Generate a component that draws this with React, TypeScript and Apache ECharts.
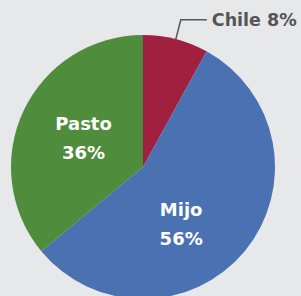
import React, { useEffect, useRef } from "react";
import * as echarts from "echarts";

const categories = ["Chile", "Mijo", "Pasto"];
const values = [8, 56, 36];
const colors = ["#a0213f", "#4a71b2", "#4f8c3b"];

export default function App() {
  const ref = useRef<HTMLDivElement>(null);
  useEffect(() => {
    document.body.style.margin = "0";
    const chart = echarts.init(ref.current!, null, { renderer: "svg" });
    const data = categories.map((name, i) => ({
      name,
      value: values[i],
      itemStyle: { color: colors[i] },
      label:
        i === 0
          ? {
              position: "outside",
              color: "#555555",
              formatter: "{b} {c}%",
              fontSize: 17.5,
              lineHeight: 20,
              overflow: "none",
              width: 120,
            }
          : { position: "inside", color: "#ffffff" },
      labelLine: { show: i === 0 },
    }));
    chart.setOption({
      animation: false,
      backgroundColor: "#e7e8ea",
      series: [
        {
          type: "pie",
          center: [143, 167],
          radius: 132,
          startAngle: 90,
          clockwise: true,
          data,
          label: {
            show: true,
            position: "inside",
            formatter: "{b}\n{c}%",
            fontFamily: "DejaVu Sans",
            fontWeight: "bold",
            fontSize: 18,
            lineHeight: 29,
            edgeDistance: 0,
          },
          labelLine: {
            show: true,
            length: 20,
            length2: 26,
            lineStyle: { color: "#555555", width: 1.5 },
          },
          labelLayout: (params: any) =>
            params.dataIndex === 1
              ? { dx: -15, dy: 13 }
              : params.dataIndex === 2
              ? { dx: 3, dy: 0 }
              : {},
          emphasis: { disabled: true },
        },
      ],
    });
    return () => chart.dispose();
  }, []);
  return (
    <div
      ref={ref}
      style={{ position: "absolute", left: 0, top: 0, width: 301, height: 296 }}
    />
  );
}
